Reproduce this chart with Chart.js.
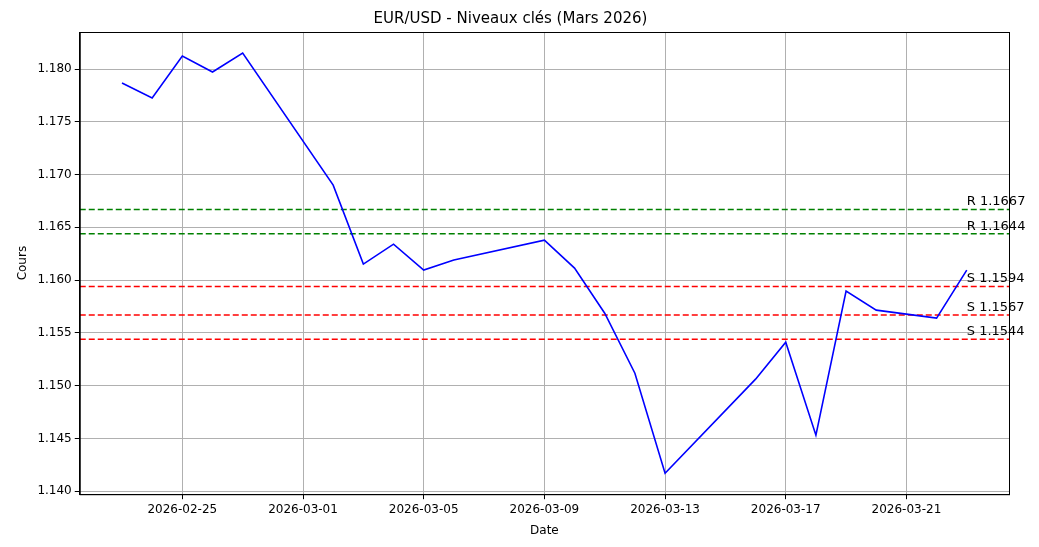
<!DOCTYPE html>
<html><head><meta charset="utf-8">
<script src="https://cdn.jsdelivr.net/npm/chart.js@4/dist/chart.umd.min.js"></script>
<style>html,body{margin:0;padding:0;background:#fff}#w{width:1039px;height:547px}</style>
</head><body><div id="w"><canvas id="c"></canvas></div>
<script>
const dates = ["2026-02-23","2026-02-24","2026-02-25","2026-02-26","2026-02-27","2026-03-02","2026-03-03","2026-03-04","2026-03-05","2026-03-06","2026-03-09","2026-03-10","2026-03-11","2026-03-12","2026-03-13","2026-03-16","2026-03-17","2026-03-18","2026-03-19","2026-03-20","2026-03-22","2026-03-23"];
const closes = [1.17867,1.17725,1.18123,1.17972,1.18152,1.16900,1.16152,1.16341,1.16095,1.16190,1.16379,1.16114,1.15687,1.15118,1.14171,1.15062,1.15412,1.14531,1.15896,1.15716,1.15640,1.16095];
const resistances = [1.1667,1.1644];
const supports = [1.1594,1.1567,1.1544];
const tickDates = ["2026-02-25","2026-03-01","2026-03-05","2026-03-09","2026-03-13","2026-03-17","2026-03-21"];

const t = d => Date.parse(d + "T00:00:00Z");
const xs = dates.map(t);
const span = xs[xs.length-1]-xs[0];
const xmin = xs[0]-0.05*span, xmax = xs[xs.length-1]+0.05*span;
const ymin0 = Math.min(...closes), ymax0 = Math.max(...closes), ys = ymax0-ymin0;
const fmt = v => new Date(v).toISOString().slice(0,10);

const datasets = [{data: xs.map((x,i)=>({x, y: closes[i]})), borderColor:'#0000ff', borderWidth:1.6, pointRadius:0, tension:0}];
const levels = [];
resistances.forEach(v=>levels.push({v, c:'#008000', l:'R '+v.toFixed(4)}));
supports.forEach(v=>levels.push({v, c:'#ff0000', l:'S '+v.toFixed(4)}));
levels.forEach(L=>datasets.push({data:[{x:xmin,y:L.v},{x:xmax,y:L.v}], borderColor:L.c, borderWidth:1.6, borderDash:[6,3], pointRadius:0}));

const labelPlugin = {id:'lbl', afterDatasetsDraw(ch){
  const {ctx, scales:{x,y}} = ch; ctx.save();
  ctx.font = '13px "DejaVu Sans"'; ctx.fillStyle='#000'; ctx.textAlign='left'; ctx.textBaseline='bottom';
  levels.forEach(L=>ctx.fillText(L.l, x.getPixelForValue(xs[xs.length-1]), y.getPixelForValue(L.v)-1));
  ctx.restore();
}};
const borderPlugin = {id:'bd', afterDraw(ch){const a=ch.chartArea,ctx=ch.ctx;ctx.save();ctx.strokeStyle='#000';ctx.lineWidth=1;ctx.strokeRect(a.left+0.5,a.top+0.5,a.right-a.left,a.bottom-a.top);ctx.restore();}};

Chart.defaults.font.family = '"DejaVu Sans"';
Chart.defaults.color = '#000';
new Chart(document.getElementById('c'), {
  type:'line', data:{datasets},
  options:{responsive:true, maintainAspectRatio:false, animation:false,
    layout:{padding:{left:12,right:30,top:0,bottom:5}},
    plugins:{legend:{display:false}, tooltip:{enabled:false},
      title:{display:true, text:'EUR/USD - Niveaux clés (Mars 2026)', font:{size:15, weight:'normal'}, padding:{top:10,bottom:4}}},
    scales:{
      x:{type:'linear', min:xmin, max:xmax,
        afterBuildTicks(s){s.ticks = tickDates.map(d=>({value:t(d)}));},
        ticks:{callback:v=>fmt(v), font:{size:12}, maxRotation:0, autoSkip:false},
        grid:{color:'#b0b0b0', drawTicks:true, tickLength:5, tickColor:'#000'},
        border:{color:'#000'},
        title:{display:true, text:'Date', font:{size:12}, padding:{top:4}}},
      y:{min:ymin0-0.05*ys, max:ymax0+0.05*ys,
        afterBuildTicks(s){const a=[];for(let v=1.140;v<=1.1805;v+=0.005)a.push({value:+v.toFixed(3)});s.ticks=a;},
        ticks:{callback:v=>v.toFixed(3), font:{size:12}},
        grid:{color:'#b0b0b0', tickLength:5, tickColor:'#000'},
        border:{color:'#000'},
        title:{display:true, text:'Cours', font:{size:12}}}
    }},
  plugins:[labelPlugin, borderPlugin]
});
</script></body></html>
